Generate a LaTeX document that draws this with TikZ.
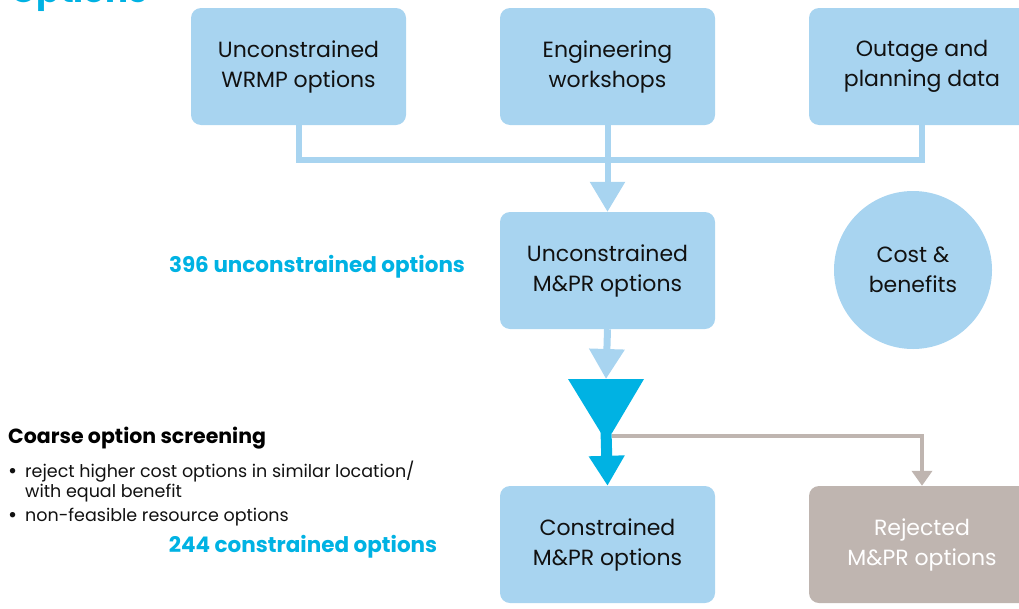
\documentclass[tikz,border=0pt]{standalone}
\usepackage{fontspec}
\setmainfont{Poppins}
\usetikzlibrary{arrows.meta,calc}
\definecolor{lblue}{HTML}{A8D4F0}
\definecolor{dcyan}{HTML}{00B2E3}
\definecolor{rgrey}{HTML}{BFB5B0}
\definecolor{txt}{HTML}{111111}
\newcommand{\bigbul}{\makebox[17pt][l]{\raisebox{-1pt}{\fontsize{22}{10}\selectfont\textbullet}}}
\tikzset{
  box/.style={rounded corners=10pt, fill=lblue, minimum width=215pt, minimum height=117pt, align=center, text=txt, font=\fontsize{22}{30}\selectfont, inner sep=0pt},
  conn/.style={draw=lblue, line width=6pt},
  tipL/.style={-{Triangle[width=34pt,length=30pt]}},
  label/.style={font=\fontsize{21.5}{24}\selectfont\bfseries, text=dcyan, inner sep=0pt}
}
\begin{document}
\begin{tikzpicture}[x=1pt,y=-1pt]
\useasboundingbox (0,0) rectangle (1019,608);
\node[anchor=base west, font=\fontsize{34}{36}\selectfont\bfseries, text=dcyan, inner sep=0pt] (title) at (10,2) {Options};
\node[box] (b1) at (298.5,66.5) {Unconstrained\\WRMP options};
\node[box] (b2) at (607.5,66.5) {Engineering\\workshops};
\node[box, minimum width=226pt] (b3) at (922,66.5) {Outage and\\planning data};
\node[box] (b4) at (607.5,270.5) {Unconstrained\\M\&PR options};
\node[circle, fill=lblue, minimum size=158pt, inner sep=0pt, align=center, text=txt, font=\fontsize{22}{30}\selectfont] (cb) at (913,270) {Cost \&\\benefits};
\node[box] (b5) at (607.5,544.5) {Constrained\\M\&PR options};
\node[box, minimum width=226pt, fill=rgrey, text=white] (b6) at (922,544.5) {Rejected\\M\&PR options};
% top connectors
\coordinate (jn) at (607.5,160);
\draw[conn] (b1.south) |- (jn) -| (b3.south);
\draw[conn, tipL] (b2.south) -- (b4.north);
% funnel
\coordinate (ftop) at (606,379);
\fill[dcyan] (568,379) -- (644,379) -- (612,433) -- (601,433) -- cycle;
\draw[conn, line width=7pt, tipL] (b4.south) -- (ftop);
\draw[draw=dcyan, line width=11pt, -{Triangle[width=34pt,length=30pt]}] (606,430) -- (b5.north);
\coordinate (gj) at (612,435.5);
\draw[draw=rgrey, line width=4pt, -{Triangle[width=20pt,length=15pt]}] (gj) -| (b6.north);
% labels
\node[label] (l396) at (317,267) {396 unconstrained options};
\node[label] (l244) at (303,547) {244 constrained options};
\node[anchor=west, inner sep=0pt, font=\fontsize{20.5}{24}\selectfont\bfseries, text=black] (cos) at (8,438) {Coarse option screening};
\node[anchor=north west, inner sep=0pt, align=left, font=\fontsize{17.5}{20}\selectfont, text=txt] (bul) at (8,461)
 {\bigbul reject higher cost options in similar location/\\
  \hspace*{17pt}with equal benefit\\[4pt]
  \bigbul non-feasible resource options};
\end{tikzpicture}
\end{document}
